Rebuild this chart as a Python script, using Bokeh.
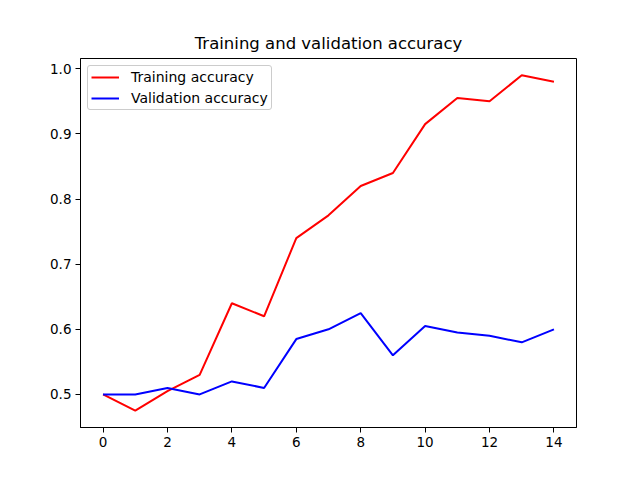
from bokeh.plotting import figure
from bokeh.models import FixedTicker, PrintfTickFormatter, Range1d, Legend, LegendItem
from bokeh.embed import file_html
from bokeh.resources import INLINE

epochs = list(range(15))
train_acc = [0.5, 0.475, 0.505, 0.53, 0.64, 0.62, 0.74, 0.775, 0.82, 0.84, 0.915, 0.955, 0.95, 0.99, 0.98]
val_acc = [0.5, 0.5, 0.51, 0.5, 0.52, 0.51, 0.585, 0.6, 0.625, 0.56, 0.605, 0.595, 0.59, 0.58, 0.6]
x_ticks = [0, 2, 4, 6, 8, 10, 12, 14]
y_ticks = [0.5, 0.6, 0.7, 0.8, 0.9, 1.0]

FONT = "DejaVu Sans"

p = figure(width=640, height=480, output_backend="svg", toolbar_location=None,
           title="Training and validation accuracy",
           x_range=Range1d(-0.7, 14.7), y_range=Range1d(0.44925, 1.01575),
           min_border_left=80, min_border_right=64, min_border_top=58, min_border_bottom=53)

p.title.align = "center"
p.title.text_font = FONT
p.title.text_font_size = "16.5px"
p.title.text_font_style = "normal"
p.title.text_color = "black"
p.title.standoff = 12

p.outline_line_color = "black"
p.outline_line_width = 1
p.outline_line_alpha = 1
p.xgrid.visible = False
p.ygrid.visible = False
p.background_fill_color = "white"
p.border_fill_color = "white"

for ax in (p.xaxis[0], p.yaxis[0]):
    ax.axis_line_color = "black"
    ax.major_tick_line_color = "black"
    ax.minor_tick_line_color = None
    ax.major_tick_out = 5
    ax.major_tick_in = 0
    ax.major_label_text_font = FONT
    ax.major_label_text_font_size = "13.5px"
    ax.major_label_text_color = "black"
    ax.major_label_standoff = 4

p.xaxis.ticker = FixedTicker(ticks=x_ticks)
p.yaxis.ticker = FixedTicker(ticks=y_ticks)
p.yaxis.formatter = PrintfTickFormatter(format="%.1f")

r1 = p.line(epochs, train_acc, line_color="#ff0000", line_width=2)
r2 = p.line(epochs, val_acc, line_color="#0000ff", line_width=2)

legend = Legend(items=[LegendItem(label="Training accuracy", renderers=[r1]),
                       LegendItem(label="Validation accuracy", renderers=[r2])],
                location="top_left")
legend.label_text_font = FONT
legend.label_text_font_size = "14px"
legend.label_text_color = "black"
legend.glyph_width = 28
legend.glyph_height = 16
legend.label_height = 16
legend.spacing = 5
legend.padding = 3
legend.margin = 7
legend.label_standoff = 12
legend.border_line_color = "#cccccc"
legend.border_line_alpha = 1
legend.background_fill_alpha = 0.8
legend.border_radius = 3
p.add_layout(legend)

open("out.html", "w").write(file_html(p, INLINE))
